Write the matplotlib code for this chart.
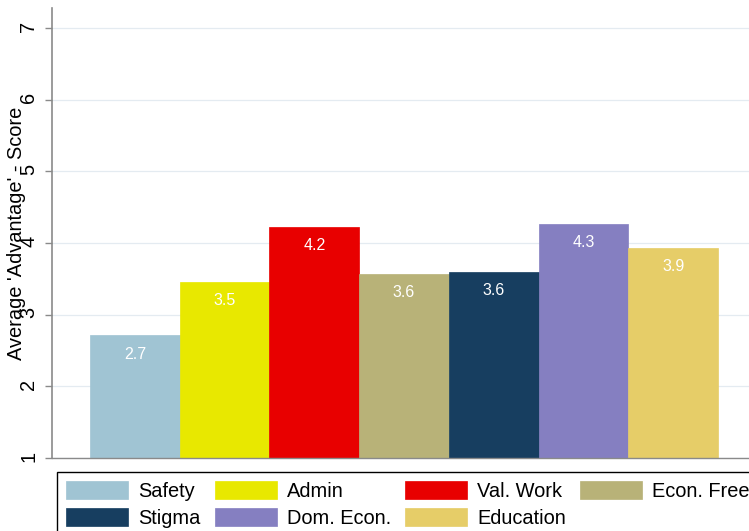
import matplotlib
matplotlib.use("Agg")
import matplotlib.pyplot as plt

plt.rcParams["font.family"] = ["Liberation Sans", "DejaVu Sans"]

categories = ["Safety", "Admin", "Val. Work", "Econ. Free",
              "Stigma", "Dom. Econ.", "Education"]
scores = [2.71, 3.46, 4.23, 3.57, 3.60, 4.27, 3.93]
colors = ["#A0C4D3", "#E8E800", "#E80000", "#B8B278",
          "#173E60", "#857FC1", "#E6CD68"]
yticks = [1, 2, 3, 4, 5, 6, 7]

W, H = 749, 531
fig = plt.figure(figsize=(W / 100, H / 100), dpi=100)
fig.patch.set_facecolor("white")

# plot area runs slightly past the right edge (the original was cropped)
ax = fig.add_axes([52 / W, 1 - 458 / H, 704 / W, 450 / H])

bars = []
for i, (name, val, col) in enumerate(zip(categories, scores, colors)):
    b = ax.bar(i, val, width=1.0, color=col, edgecolor=col, linewidth=0.5,
               label=name)
    bars.append(b)
    ax.annotate(f"{val:.1f}", xy=(i, val), xytext=(0, -13.5),
                textcoords="offset points", ha="center", va="center",
                color="white", fontsize=11.5)

ax.set_xlim(-0.5 - 0.424, 6.5 + 0.424)
ax.set_ylim(1, 7.28)
ax.set_yticks(yticks)
ax.set_xticks([])

ax.set_axisbelow(True)
ax.yaxis.grid(True, color="#e4ebf1", linewidth=0.9)

for side in ["top", "right"]:
    ax.spines[side].set_visible(False)
ax.spines["left"].set_color("#8a8a8a")
ax.spines["left"].set_linewidth(1.2)
ax.spines["bottom"].set_color("#8a8a8a")
ax.spines["bottom"].set_linewidth(1.0)

ax.tick_params(axis="y", labelrotation=90, labelsize=14.4, length=5,
               width=1.0, color="#8a8a8a", pad=5.0)

ax.set_ylabel("Average 'Advantage' - Score", fontsize=14.4)
ax.yaxis.set_label_coords(-26 / 704, 0.5)

# legend order so rows read: Safety Admin Val.Work Econ.Free / Stigma Dom.Econ. Education
order = [0, 4, 1, 5, 2, 6, 3]
handles = [bars[i] for i in order]
labels = [categories[i] for i in order]
leg = fig.legend(handles, labels, loc="upper left",
                 bbox_to_anchor=(57 / W, 1 - 472 / H), ncol=4,
                 fontsize=14.4, frameon=True, fancybox=False, shadow=False,
                 framealpha=1, edgecolor="black", handlelength=3.1,
                 handleheight=1.0, handletextpad=0.5, columnspacing=0.72,
                 labelspacing=0.38, borderpad=0.45, borderaxespad=0)
leg.get_frame().set_linewidth(1.0)

fig.savefig("out.png", dpi=100)
